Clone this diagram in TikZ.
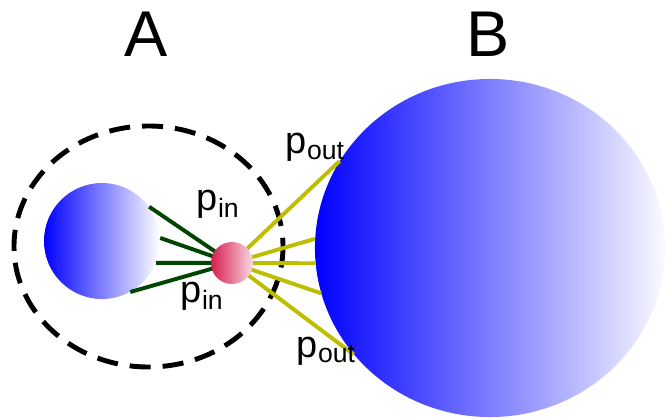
\documentclass[tikz,border=0pt]{standalone}
\usepackage{fontspec}
\setmainfont{Liberation Sans}
\usepackage{tikz}
\usetikzlibrary{shapes.geometric}
\definecolor{bondgreen}{RGB}{0,70,0}
\definecolor{bondyellow}{RGB}{190,190,0}
\definecolor{crimsonred}{RGB}{215,28,78}
\definecolor{palepink}{RGB}{248,218,228}
\definecolor{paleblue}{RGB}{250,250,255}

\begin{document}
\begin{tikzpicture}[x=0.025cm, y=-0.025cm,
    ball/.style={circle, inner sep=0pt},
    bond/.style={line width=2.8pt},
    lbl/.style={anchor=base west, font=\fontsize{27}{30}\selectfont},
    title/.style={anchor=base, font=\fontsize{46}{50}\selectfont}
]
\useasboundingbox (0,0) rectangle (672,420);
\draw[line width=3.5pt, dash pattern=on 15pt off 8.5pt] (148.5,246.5) ellipse [x radius=134.5, y radius=120.5];
\node[ellipse, inner sep=0pt, minimum width=8.75cm, minimum height=8.45cm, left color=blue, right color=paleblue] (b) at (490,248) {};
\node[ball, minimum size=2.9cm, left color=blue, right color=white] (a) at (102,241) {};
\coordinate (c) at (232,263);
\draw[bond, bondgreen] (a.36) -- (c); \draw[bond, bondgreen] (a.3) -- (c);
\draw[bond, bondgreen] (a.-22) -- (c); \draw[bond, bondgreen] (a.-61) -- (c);
\draw[bond, bondyellow] (c) -- (b.150); \draw[bond, bondyellow] (c) -- (b.177);
\draw[bond, bondyellow] (c) -- (b.185); \draw[bond, bondyellow] (c) -- (b.195);
\draw[bond, bondyellow] (c) -- (b.218);
\node[ball, minimum size=1.05cm, left color=crimsonred, right color=palepink] (r) at (c) {};
\node[title] (ta) at (146.5,57) {A};
\node[title] (tb) at (488,57) {B};
\node[lbl] (pin1) at (192,210) {p\textsubscript{in}};
\node[lbl] (pin2) at (176,302) {p\textsubscript{in}};
\node[lbl] (pout1) at (281,154) {p\textsubscript{out}};
\node[lbl] (pout2) at (292,357) {p\textsubscript{out}};
\end{tikzpicture}
\end{document}
